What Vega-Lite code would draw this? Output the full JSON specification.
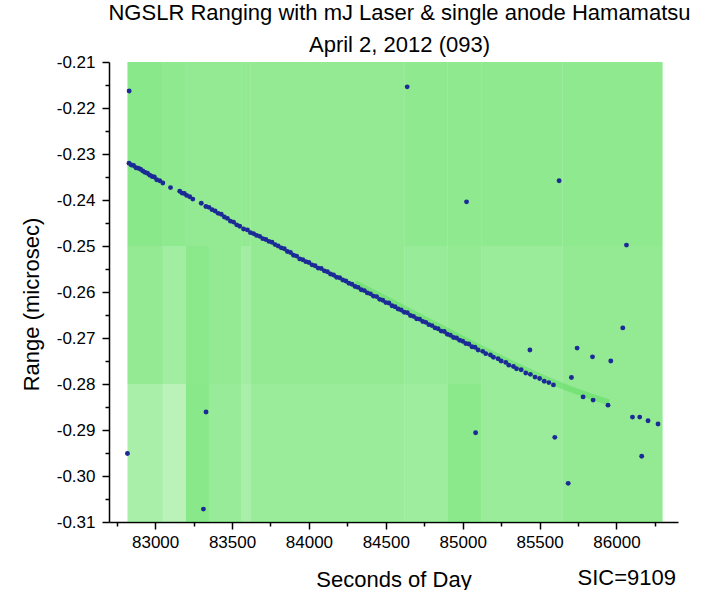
{
  "$schema": "https://vega.github.io/schema/vega-lite/v6.json",
  "width": 569,
  "height": 460,
  "autosize": "none",
  "padding": {"left": 109, "top": 62, "right": 31, "bottom": 68},
  "background": "white",
  "config": {"view": {"stroke": null}, "font": "Liberation Sans"},
  "title": {
    "text": ["NGSLR Ranging with mJ Laser & single anode Hamamatsu", "April 2, 2012 (093)"],
    "fontSize": 22, "font": "Liberation Sans", "fontWeight": "normal", "color": "black",
    "lineHeight": 32, "offset": -4, "anchor": "middle", "dx": 6
  },
  "datasets": {
    "noise": [
      {"t": 82820, "t2": 83050, "r": -0.25, "r2": -0.21, "density": 0.55},
      {"t": 82820, "t2": 83050, "r": -0.28, "r2": -0.25, "density": 0.5},
      {"t": 82820, "t2": 83050, "r": -0.31, "r2": -0.28, "density": 0.4},
      {"t": 83050, "t2": 83200, "r": -0.25, "r2": -0.21, "density": 0.52},
      {"t": 83050, "t2": 83200, "r": -0.28, "r2": -0.25, "density": 0.44},
      {"t": 83050, "t2": 83200, "r": -0.31, "r2": -0.28, "density": 0.32},
      {"t": 83200, "t2": 83350, "r": -0.25, "r2": -0.21, "density": 0.5},
      {"t": 83200, "t2": 83350, "r": -0.28, "r2": -0.25, "density": 0.54},
      {"t": 83200, "t2": 83350, "r": -0.31, "r2": -0.28, "density": 0.55},
      {"t": 83350, "t2": 83560, "r": -0.25, "r2": -0.21, "density": 0.5},
      {"t": 83350, "t2": 83560, "r": -0.28, "r2": -0.25, "density": 0.5},
      {"t": 83350, "t2": 83560, "r": -0.31, "r2": -0.28, "density": 0.48},
      {"t": 83560, "t2": 83620, "r": -0.25, "r2": -0.21, "density": 0.5},
      {"t": 83560, "t2": 83620, "r": -0.28, "r2": -0.25, "density": 0.44},
      {"t": 83560, "t2": 83620, "r": -0.31, "r2": -0.28, "density": 0.4},
      {"t": 83620, "t2": 84000, "r": -0.25, "r2": -0.21, "density": 0.5},
      {"t": 83620, "t2": 84000, "r": -0.28, "r2": -0.25, "density": 0.5},
      {"t": 83620, "t2": 84000, "r": -0.31, "r2": -0.28, "density": 0.47},
      {"t": 84000, "t2": 84620, "r": -0.25, "r2": -0.21, "density": 0.5},
      {"t": 84000, "t2": 84620, "r": -0.28, "r2": -0.25, "density": 0.5},
      {"t": 84000, "t2": 84620, "r": -0.31, "r2": -0.28, "density": 0.47},
      {"t": 84620, "t2": 84900, "r": -0.25, "r2": -0.21, "density": 0.52},
      {"t": 84620, "t2": 84900, "r": -0.28, "r2": -0.25, "density": 0.48},
      {"t": 84620, "t2": 84900, "r": -0.31, "r2": -0.28, "density": 0.45},
      {"t": 84900, "t2": 85120, "r": -0.25, "r2": -0.21, "density": 0.52},
      {"t": 84900, "t2": 85120, "r": -0.28, "r2": -0.25, "density": 0.5},
      {"t": 84900, "t2": 85120, "r": -0.31, "r2": -0.28, "density": 0.54},
      {"t": 85120, "t2": 85650, "r": -0.25, "r2": -0.21, "density": 0.52},
      {"t": 85120, "t2": 85650, "r": -0.28, "r2": -0.25, "density": 0.47},
      {"t": 85120, "t2": 85650, "r": -0.31, "r2": -0.28, "density": 0.47},
      {"t": 85650, "t2": 86300, "r": -0.25, "r2": -0.21, "density": 0.52},
      {"t": 85650, "t2": 86300, "r": -0.28, "r2": -0.25, "density": 0.5},
      {"t": 85650, "t2": 86300, "r": -0.31, "r2": -0.28, "density": 0.5}
    ],
    "halo": [
      {"t": 84300, "r": -0.2581},
      {"t": 84500, "r": -0.2615},
      {"t": 84700, "r": -0.2650},
      {"t": 84900, "r": -0.2684},
      {"t": 85100, "r": -0.2719},
      {"t": 85300, "r": -0.2752},
      {"t": 85500, "r": -0.2783},
      {"t": 85700, "r": -0.2811},
      {"t": 85950, "r": -0.2840}
    ],
    "returns": [
      {"t": 82830, "r": -0.2320}, {"t": 82845, "r": -0.2324}, {"t": 82860, "r": -0.2325},
      {"t": 82875, "r": -0.2330}, {"t": 82890, "r": -0.2331}, {"t": 82905, "r": -0.2333},
      {"t": 82920, "r": -0.2337}, {"t": 82935, "r": -0.2340}, {"t": 82950, "r": -0.2342},
      {"t": 82965, "r": -0.2346}, {"t": 82980, "r": -0.2349}, {"t": 82995, "r": -0.2350},
      {"t": 83010, "r": -0.2356}, {"t": 83030, "r": -0.2358}, {"t": 83050, "r": -0.2363},
      {"t": 83100, "r": -0.2373}, {"t": 83160, "r": -0.2381}, {"t": 83175, "r": -0.2385},
      {"t": 83190, "r": -0.2386}, {"t": 83205, "r": -0.2390}, {"t": 83225, "r": -0.2393},
      {"t": 83245, "r": -0.2398}, {"t": 83300, "r": -0.2407}, {"t": 83330, "r": -0.2414},
      {"t": 83350, "r": -0.2416}, {"t": 83370, "r": -0.2421}, {"t": 83390, "r": -0.2424},
      {"t": 83410, "r": -0.2429}, {"t": 83430, "r": -0.2431}, {"t": 83450, "r": -0.2437},
      {"t": 83470, "r": -0.2440}, {"t": 83490, "r": -0.2446}, {"t": 83510, "r": -0.2448},
      {"t": 83530, "r": -0.2454}, {"t": 83550, "r": -0.2457}, {"t": 83575, "r": -0.2463},
      {"t": 83600, "r": -0.2465}, {"t": 83620, "r": -0.2471}, {"t": 83640, "r": -0.2473},
      {"t": 83660, "r": -0.2477}, {"t": 83680, "r": -0.2479}, {"t": 83700, "r": -0.2484},
      {"t": 83720, "r": -0.2486}, {"t": 83740, "r": -0.2490}, {"t": 83760, "r": -0.2492},
      {"t": 83780, "r": -0.2497}, {"t": 83800, "r": -0.2500}, {"t": 83820, "r": -0.2504},
      {"t": 83840, "r": -0.2506}, {"t": 83860, "r": -0.2512}, {"t": 83880, "r": -0.2514},
      {"t": 83900, "r": -0.2520}, {"t": 83920, "r": -0.2522}, {"t": 83940, "r": -0.2528},
      {"t": 83960, "r": -0.2530}, {"t": 83980, "r": -0.2534}, {"t": 84000, "r": -0.2536},
      {"t": 84020, "r": -0.2541}, {"t": 84040, "r": -0.2543}, {"t": 84060, "r": -0.2548},
      {"t": 84080, "r": -0.2549}, {"t": 84100, "r": -0.2554}, {"t": 84120, "r": -0.2556},
      {"t": 84140, "r": -0.2561}, {"t": 84160, "r": -0.2563}, {"t": 84180, "r": -0.2568},
      {"t": 84200, "r": -0.2569}, {"t": 84220, "r": -0.2574}, {"t": 84240, "r": -0.2576},
      {"t": 84260, "r": -0.2581}, {"t": 84280, "r": -0.2583}, {"t": 84300, "r": -0.2588},
      {"t": 84320, "r": -0.2590}, {"t": 84340, "r": -0.2595}, {"t": 84360, "r": -0.2597},
      {"t": 84380, "r": -0.2602}, {"t": 84400, "r": -0.2604}, {"t": 84420, "r": -0.2609},
      {"t": 84440, "r": -0.2610}, {"t": 84460, "r": -0.2616}, {"t": 84480, "r": -0.2618},
      {"t": 84500, "r": -0.2623}, {"t": 84520, "r": -0.2624}, {"t": 84540, "r": -0.2630},
      {"t": 84560, "r": -0.2632}, {"t": 84580, "r": -0.2637}, {"t": 84600, "r": -0.2639},
      {"t": 84620, "r": -0.2644}, {"t": 84640, "r": -0.2645}, {"t": 84660, "r": -0.2651},
      {"t": 84680, "r": -0.2653}, {"t": 84700, "r": -0.2658}, {"t": 84720, "r": -0.2659},
      {"t": 84740, "r": -0.2664}, {"t": 84760, "r": -0.2666}, {"t": 84780, "r": -0.2671},
      {"t": 84800, "r": -0.2673}, {"t": 84820, "r": -0.2678}, {"t": 84840, "r": -0.2680},
      {"t": 84860, "r": -0.2685}, {"t": 84880, "r": -0.2686}, {"t": 84900, "r": -0.2692},
      {"t": 84920, "r": -0.2694}, {"t": 84940, "r": -0.2699}, {"t": 84960, "r": -0.2700},
      {"t": 84980, "r": -0.2705}, {"t": 85000, "r": -0.2707}, {"t": 85020, "r": -0.2712},
      {"t": 85040, "r": -0.2713}, {"t": 85060, "r": -0.2719}, {"t": 85080, "r": -0.2720},
      {"t": 85100, "r": -0.2726}, {"t": 85130, "r": -0.2729}, {"t": 85150, "r": -0.2734},
      {"t": 85180, "r": -0.2737}, {"t": 85200, "r": -0.2742}, {"t": 85230, "r": -0.2745},
      {"t": 85250, "r": -0.2750}, {"t": 85280, "r": -0.2753}, {"t": 85300, "r": -0.2759},
      {"t": 85330, "r": -0.2762}, {"t": 85350, "r": -0.2767}, {"t": 85380, "r": -0.2769},
      {"t": 85410, "r": -0.2776}, {"t": 85440, "r": -0.2779}, {"t": 85470, "r": -0.2785},
      {"t": 85500, "r": -0.2788}, {"t": 85530, "r": -0.2794}, {"t": 85560, "r": -0.2797},
      {"t": 85590, "r": -0.2802}, {"t": 85783, "r": -0.2828}, {"t": 85848, "r": -0.2835},
      {"t": 85945, "r": -0.2846}, {"t": 86104, "r": -0.2872}, {"t": 86151, "r": -0.2872},
      {"t": 86205, "r": -0.2880}, {"t": 86270, "r": -0.2887},
      {"t": 82831, "r": -0.2163}, {"t": 84639, "r": -0.2154}, {"t": 85025, "r": -0.2404},
      {"t": 85627, "r": -0.2358}, {"t": 86065, "r": -0.2498}, {"t": 83331, "r": -0.2861},
      {"t": 82820, "r": -0.2951}, {"t": 83314, "r": -0.3072}, {"t": 85437, "r": -0.2726},
      {"t": 85744, "r": -0.2722}, {"t": 85844, "r": -0.2741}, {"t": 85963, "r": -0.2750},
      {"t": 85707, "r": -0.2786}, {"t": 86041, "r": -0.2678}, {"t": 85084, "r": -0.2906},
      {"t": 85599, "r": -0.2916}, {"t": 86164, "r": -0.2957}, {"t": 85686, "r": -0.3016}
    ]
  },
  "encoding": {
    "x": {
      "field": "t", "type": "quantitative",
      "scale": {"domain": [82700, 86400], "nice": false, "zero": false},
      "axis": {
        "title": "Seconds of Day",
        "values": [82750, 83000, 83250, 83500, 83750, 84000, 84250, 84500, 84750, 85000, 85250, 85500, 85750, 86000, 86250],
        "format": "d",
        "labelExpr": "datum.value % 500 == 0 ? datum.label : ''",
        "tickSize": {"condition": {"test": "datum.value % 500 == 0", "value": 7}, "value": 4},
        "grid": false, "domainColor": "black", "tickColor": "black", "domainWidth": 1.5, "tickWidth": 1.5,
        "labelFontSize": 17, "labelColor": "black", "labelPadding": 5, "labelFlush": false, "labelOverlap": false,
        "titleFontSize": 22, "titleFontWeight": "normal", "titleColor": "black",
        "titleBaseline": "middle", "titleY": 57
      }
    },
    "y": {
      "field": "r", "type": "quantitative",
      "scale": {"domain": [-0.31, -0.21], "nice": false, "zero": false},
      "axis": {
        "title": "Range (microsec)",
        "values": [-0.31, -0.305, -0.3, -0.295, -0.29, -0.285, -0.28, -0.275, -0.27, -0.265, -0.26, -0.255, -0.25, -0.245, -0.24, -0.235, -0.23, -0.225, -0.22, -0.215, -0.21],
        "format": ".2f",
        "labelExpr": "abs(round(datum.value*200)) % 2 == 0 ? replace(datum.label, '\u2212', '-') : ''",
        "tickSize": {"condition": {"test": "abs(round(datum.value*200)) % 2 == 0", "value": 7}, "value": 4},
        "grid": false, "domainColor": "black", "tickColor": "black", "domainWidth": 1.5, "tickWidth": 1.5,
        "labelFontSize": 17, "labelColor": "black", "labelPadding": 7, "labelOverlap": false, "labelFlush": false,
        "titleFontSize": 22, "titleFontWeight": "normal", "titleColor": "black",
        "titleBaseline": "middle", "titleX": -78, "titleY": 242
      }
    }
  },
  "layer": [
    {
      "data": {"name": "noise"},
      "mark": {"type": "rect", "fill": "#28d628"},
      "encoding": {
        "x2": {"field": "t2"},
        "y2": {"field": "r2"},
        "opacity": {"field": "density", "type": "quantitative", "scale": null}
      }
    },
    {
      "data": {"name": "halo"},
      "mark": {"type": "line", "color": "#22cc22", "strokeWidth": 6, "opacity": 0.25, "interpolate": "monotone"},
      "encoding": {}
    },
    {
      "data": {"name": "returns"},
      "mark": {"type": "circle", "color": "#1c2a96", "size": 24, "opacity": 1},
      "encoding": {}
    },
    {
      "data": {"values": [{"label": "SIC=9109", "t": 86067, "r": -0.3222}]},
      "mark": {"type": "text", "fontSize": 22, "font": "Liberation Sans", "color": "black", "align": "center", "baseline": "middle"},
      "encoding": {
        "text": {"field": "label"}
      }
    }
  ]
}
